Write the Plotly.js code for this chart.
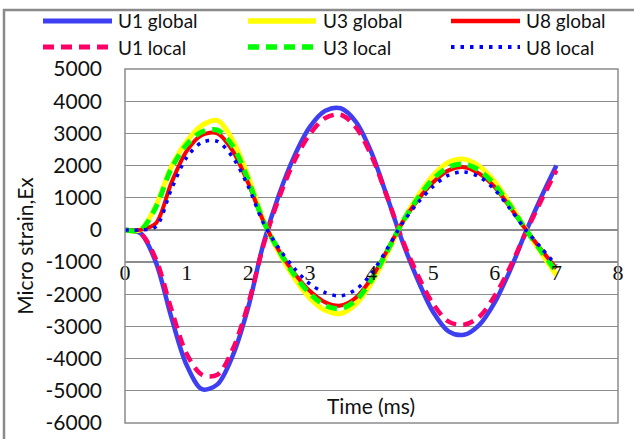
<!DOCTYPE html>
<html>
<head>
<meta charset="utf-8">
<script src="https://cdn.plot.ly/plotly-3.0.1.min.js"></script>
<style>
  html, body { margin: 0; padding: 0; background: #fff; }
  #chart { width: 634px; height: 439px; }
</style>
</head>
<body>
<div id="chart"></div>
<script>
// Time axis (ms)
const time = [0, 0.25, 0.5, 0.75, 1.0, 1.25, 1.5, 1.75, 2.0, 2.25, 2.5, 2.75, 3.0, 3.25, 3.5,
              3.75, 4.0, 4.25, 4.5, 4.75, 5.0, 5.25, 5.5, 5.75, 6.0, 6.25, 6.5, 6.75, 7.0];

// Micro strain Ex at each gauge
const u1Global = [0, -100, -1000, -2700, -4200, -4950, -4800, -3900, -2400, -400, 1100, 2300, 3200,
                  3700, 3780, 3350, 2400, 1050, -350, -1550, -2550, -3150, -3260, -2950, -2250, -1250, -80, 1000, 2000];
const u3Global = [0, 0, 750, 1950, 2750, 3250, 3400, 2780, 1650, 280, -700, -1500, -2120, -2500, -2600,
                  -2300, -1650, -740, 240, 1040, 1690, 2100, 2200, 1980, 1500, 800, 30, -700, -1400];
const u8Global = [0, 0, 200, 1450, 2450, 2950, 3000, 2450, 1450, 250, -650, -1350, -1900, -2250, -2350,
                  -2100, -1500, -650, 230, 930, 1480, 1850, 1950, 1750, 1330, 700, 20, -600, -1200];
const u1Local  = [0, -100, -900, -2450, -3850, -4500, -4500, -3700, -2300, -450, 1000, 2150, 2980, 3480, 3580,
                  3180, 2300, 1050, -300, -1400, -2300, -2850, -2950, -2700, -2050, -1150, -100, 900, 1850];
const u3Local  = [0, 0, 700, 1900, 2650, 3050, 3100, 2600, 1550, 250, -650, -1400, -1980, -2350, -2450,
                  -2180, -1550, -680, 230, 980, 1580, 1950, 2050, 1850, 1400, 750, 20, -650, -1300];
const u8Local  = [0, 0, 100, 1250, 2250, 2720, 2750, 2250, 1350, 200, -580, -1200, -1680, -1950, -2050,
                  -1850, -1350, -600, 200, 840, 1350, 1700, 1800, 1650, 1250, 650, 10, -550, -1100];

const seriesNames = ['U1 global', 'U3 global', 'U8 global', 'U1 local', 'U3 local', 'U8 local'];
const seriesData  = [u1Global, u3Global, u8Global, u1Local, u3Local, u8Local];
const seriesColors = ['#3f3ff2', '#ffff00', '#ff0000', '#ff0066', '#00ff00', '#0000ff'];
const seriesDash   = ['solid', 'solid', 'solid', '11px,7px', '11px,7px', '3.5px,6px'];
const seriesWidth  = [4.5, 5, 4, 4.5, 5, 3.5];

const xTicks = [0, 1, 2, 3, 4, 5, 6, 7, 8];
const yTicks = [5000, 4000, 3000, 2000, 1000, 0, -1000, -2000, -3000, -4000, -5000, -6000];

// Plot area geometry in pixels
const W = 634, H = 439;
const M = { l: 125, r: 16, t: 69, b: 16 };
const pw = W - M.l - M.r, ph = H - M.t - M.b;
const px = x => (x - M.l) / pw;          // pixel x -> paper
const py = y => (H - M.b - y) / ph;      // pixel y -> paper

const traces = seriesData.map((vals, i) => ({
  x: time,
  y: vals,
  type: 'scatter',
  mode: 'lines',
  name: seriesNames[i],
  showlegend: false,
  line: { color: seriesColors[i], width: seriesWidth[i], dash: seriesDash[i], shape: 'spline', smoothing: 0.9 },
  hoverinfo: 'skip'
}));

// Two-row legend with long sample lines
const legendCols = [{ x0: 43, x1: 112, tx: 116 }, { x0: 248, x1: 316, tx: 321 }, { x0: 451, x1: 520, tx: 524 }];
const legendRows = [21, 47];
const shapes = [];
const annotations = [];
seriesNames.forEach((name, i) => {
  const c = legendCols[i % 3];
  const ry = legendRows[Math.floor(i / 3)];
  shapes.push({
    type: 'line', xref: 'paper', yref: 'paper',
    x0: px(c.x0), x1: px(c.x1), y0: py(ry), y1: py(ry),
    line: { color: seriesColors[i], width: seriesWidth[i] + 0.5, dash: seriesDash[i] }
  });
  annotations.push({
    xref: 'paper', yref: 'paper', x: px(c.tx), y: py(ry),
    xanchor: 'left', yanchor: 'middle', showarrow: false, text: name,
    font: { family: 'Lato, sans-serif', size: 19, color: '#111' }
  });
});

// Outer chart border and plot-area frame
shapes.push({
  type: 'rect', xref: 'paper', yref: 'paper', layer: 'above',
  x0: px(4), x1: px(645), y0: py(10), y1: py(450),
  line: { color: '#8a8a8a', width: 2.5 }
});
shapes.push({
  type: 'rect', xref: 'paper', yref: 'paper', layer: 'above',
  x0: 0, x1: 1, y0: 0, y1: 1,
  line: { color: '#8c8c8c', width: 1.5 }
});

annotations.push({
  xref: 'paper', yref: 'paper', x: px(371), y: py(405),
  xanchor: 'center', yanchor: 'middle', showarrow: false, text: 'Time (ms)',
  font: { family: 'Lato, sans-serif', size: 21, color: '#111' }
});

const layout = {
  width: W, height: H,
  margin: M,
  paper_bgcolor: '#ffffff',
  plot_bgcolor: '#ffffff',
  showlegend: false,
  xaxis: {
    range: [0, 8],
    tickvals: xTicks,
    ticktext: xTicks.map(String),
    ticks: '',
    showgrid: false,
    zeroline: false,
    showline: false,
    anchor: 'free',
    position: py(257),
    tickfont: { family: '"Liberation Serif", serif', size: 22, color: '#111' },
    fixedrange: true
  },
  yaxis: {
    range: [-6000, 5000],
    tickvals: yTicks,
    ticktext: yTicks.map(String),
    ticks: '',
    showgrid: true,
    gridcolor: '#8c8c8c',
    gridwidth: 1.2,
    zeroline: true,
    zerolinecolor: '#8c8c8c',
    zerolinewidth: 1.2,
    showline: false,
    ticklabelstandoff: 22,
    tickfont: { family: 'Lato, sans-serif', size: 21, color: '#111' },
    title: { text: 'Micro strain,Ex', font: { family: 'Lato, sans-serif', size: 21, color: '#111' }, standoff: 6 },
    fixedrange: true
  },
  shapes: shapes,
  annotations: annotations
};

Plotly.newPlot('chart', traces, layout, { displayModeBar: false, staticPlot: true });
</script>
</body>
</html>
